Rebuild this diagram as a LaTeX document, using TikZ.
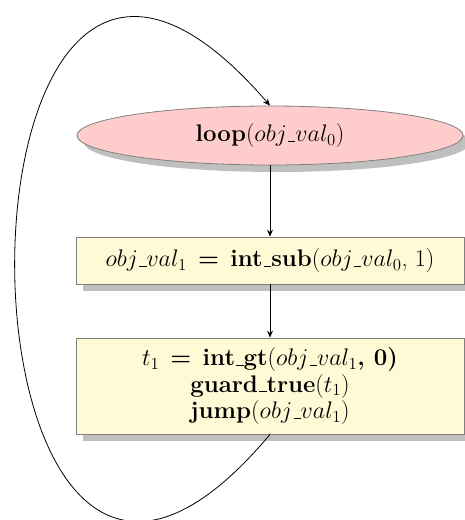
\RequirePackage{fix-cm}
\documentclass[tikz,border=0pt]{standalone}
\usetikzlibrary{shadows,shapes.geometric,arrows.meta}
\definecolor{pinkfill}{RGB}{255,204,204}
\definecolor{yelfill}{RGB}{255,249,214}
\definecolor{bordergray}{RGB}{128,128,128}
\newcommand{\usc}{\leavevmode\kern.06em\vbox{\hrule width.3em height .9pt}}
\begin{document}
\begin{tikzpicture}[x=1pt,y=-1pt,
  font=\fontsize{24}{26.5}\selectfont,
  shad/.style={drop shadow={shadow xshift=7pt, shadow yshift=-7pt, fill=black!25, opacity=1}},
  ell/.style={ellipse, draw=bordergray, line width=0.8pt, fill=pinkfill, shad, minimum width=386pt, minimum height=59pt, inner sep=0pt},
  box/.style={rectangle, draw=bordergray, line width=0.8pt, fill=yelfill, shad, minimum width=388pt, inner sep=0pt, align=center},
  conn/.style={-{Stealth[length=7pt,width=6pt,inset=2.5pt]}, line width=0.8pt}]
\useasboundingbox (0,0) rectangle (464,520);
\node[ell] (loop) at (270,135.5) {\textbf{loop}($obj\usc val_0$)};
\node[box, minimum height=47pt] (b1) at (270,260.5) {$obj\usc val_1$ \,\textbf{=}\, \textbf{int\usc sub}($obj\usc val_0$, 1)};
\node[box, minimum height=96pt] (b2) at (270,386) {$t_1$ \,\textbf{=}\, \textbf{int\usc gt}($obj\usc val_1$\textbf{, 0)}\\ \textbf{guard\usc true}($t_1$)\\ \textbf{jump}($obj\usc val_1$)};
\draw[conn] (loop.south) -- (b1.north);
\draw[conn] (b1.south) -- (b2.north);
\draw[conn] (b2.south) .. controls +(-335,400) and +(-345,-400) .. (loop.north);
\end{tikzpicture}
\end{document}
